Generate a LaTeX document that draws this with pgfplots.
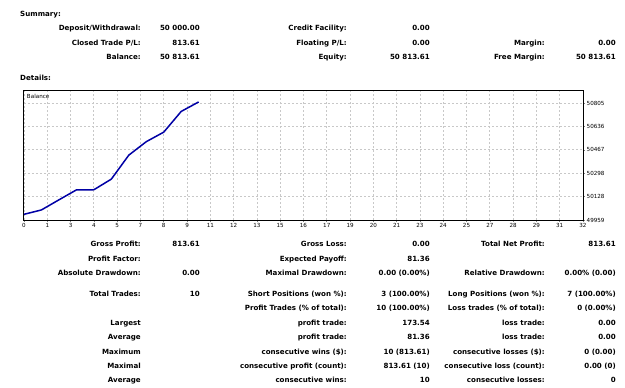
\documentclass[border=0pt]{standalone}
\usepackage{pgfplots}
\pgfplotsset{compat=1.18}
\usepackage{fontspec}
\setmainfont{DejaVu Sans}
\definecolor{bal}{RGB}{0,0,165}
\definecolor{gridc}{RGB}{200,200,200}
\newcommand\lf{\fontsize{7.1}{8}\selectfont\bfseries}
\newcommand\tf{\fontsize{5.6}{6}\selectfont}
\pgfplotstableread{
n bal
0 50000
1 50032
2 50105
3 50177
4 50178
5 50255
6 50428.5
7 50526
8 50595
9 50745
10 50813.61
}\baldata
\begin{document}
\begin{tikzpicture}
\path[use as bounding box] (0pt,0pt) rectangle (625pt,-388pt);
\begin{scope}[x=1pt,y=-1pt, every node/.style={inner sep=0pt, text height=5.2pt, text depth=0pt, font=\lf}]
\node[anchor=west] at (20,14) {Summary:};
\node[anchor=west] at (20,78) {Details:};
% top block
\node[anchor=east] at (141,28.3) {Deposit/Withdrawal:};
\node[anchor=east] at (200,28.3) {50 000.00};
\node[anchor=east] at (347,28.3) {Credit Facility:};
\node[anchor=east] at (430,28.3) {0.00};
\node[anchor=east] at (141,42.7) {Closed Trade P/L:};
\node[anchor=east] at (200,42.7) {813.61};
\node[anchor=east] at (347,42.7) {Floating P/L:};
\node[anchor=east] at (430,42.7) {0.00};
\node[anchor=east] at (545,42.7) {Margin:};
\node[anchor=east] at (616,42.7) {0.00};
\node[anchor=east] at (141,57) {Balance:};
\node[anchor=east] at (200,57) {50 813.61};
\node[anchor=east] at (347,57) {Equity:};
\node[anchor=east] at (430,57) {50 813.61};
\node[anchor=east] at (545,57) {Free Margin:};
\node[anchor=east] at (616,57) {50 813.61};
% lower block
\node[anchor=east] at (141,244) {Gross Profit:};
\node[anchor=east] at (200,244) {813.61};
\node[anchor=east] at (347,244) {Gross Loss:};
\node[anchor=east] at (430,244) {0.00};
\node[anchor=east] at (545,244) {Total Net Profit:};
\node[anchor=east] at (616,244) {813.61};
\node[anchor=east] at (141,258.7) {Profit Factor:};
\node[anchor=east] at (347,258.7) {Expected Payoff:};
\node[anchor=east] at (430,258.7) {81.36};
\node[anchor=east] at (141,273) {Absolute Drawdown:};
\node[anchor=east] at (200,273) {0.00};
\node[anchor=east] at (347,273) {Maximal Drawdown:};
\node[anchor=east] at (430,273) {0.00 (0.00\%)};
\node[anchor=east] at (545,273) {Relative Drawdown:};
\node[anchor=east] at (616,273) {0.00\% (0.00)};
\node[anchor=east] at (141,293.7) {Total Trades:};
\node[anchor=east] at (200,293.7) {10};
\node[anchor=east] at (347,293.7) {Short Positions (won \%):};
\node[anchor=east] at (430,293.7) {3 (100.00\%)};
\node[anchor=east] at (545,293.7) {Long Positions (won \%):};
\node[anchor=east] at (616,293.7) {7 (100.00\%)};
\node[anchor=east] at (347,308) {Profit Trades (\% of total):};
\node[anchor=east] at (430,308) {10 (100.00\%)};
\node[anchor=east] at (545,308) {Loss trades (\% of total):};
\node[anchor=east] at (616,308) {0 (0.00\%)};
\node[anchor=east] at (141,322.7) {Largest};
\node[anchor=east] at (347,322.7) {profit trade:};
\node[anchor=east] at (430,322.7) {173.54};
\node[anchor=east] at (545,322.7) {loss trade:};
\node[anchor=east] at (616,322.7) {0.00};
\node[anchor=east] at (141,337) {Average};
\node[anchor=east] at (347,337) {profit trade:};
\node[anchor=east] at (430,337) {81.36};
\node[anchor=east] at (545,337) {loss trade:};
\node[anchor=east] at (616,337) {0.00};
\node[anchor=east] at (141,351.7) {Maximum};
\node[anchor=east] at (347,351.7) {consecutive wins (\$):};
\node[anchor=east] at (430,351.7) {10 (813.61)};
\node[anchor=east] at (545,351.7) {consecutive losses (\$):};
\node[anchor=east] at (616,351.7) {0 (0.00)};
\node[anchor=east] at (141,366) {Maximal};
\node[anchor=east] at (347,366) {consecutive profit (count):};
\node[anchor=east] at (430,366) {813.61 (10)};
\node[anchor=east] at (545,366) {consecutive loss (count):};
\node[anchor=east] at (616,366) {0.00 (0)};
\node[anchor=east] at (141,380.3) {Average};
\node[anchor=east] at (347,380.3) {consecutive wins:};
\node[anchor=east] at (430,380.3) {10};
\node[anchor=east] at (545,380.3) {consecutive losses:};
\node[anchor=east] at (616,380.3) {0};
\end{scope}
\begin{axis}[at={(24pt,-220pt)}, anchor=south west, scale only axis,
  width=559pt, height=130pt,
  xmin=0, xmax=32, ymin=49959, ymax=50900,
  scaled ticks=false,
  axis line style={black, line width=1pt},
  grid=major, major grid style={gridc, dash pattern=on 2pt off 2pt, line width=0.8pt},
  xtick={0,1.33333,2.66667,4,5.33333,6.66667,8,9.33333,10.66667,12,13.33333,14.66667,16,17.33333,18.66667,20,21.33333,22.66667,24,25.33333,26.66667,28,29.33333,30.66667,32},
  xticklabels={0,1,3,4,5,7,8,9,11,12,13,15,16,17,19,20,21,23,24,25,27,28,29,31,32},
  ytick={49959,50128.2,50297.4,50466.6,50635.8,50805},
  yticklabels={49959,50128,50298,50467,50636,50805},
  xtick pos=bottom, ytick pos=right, yticklabel pos=right,
  tick align=outside, major tick length=2pt, tick style={gray, line width=0.6pt},
  ticklabel style={font=\tf, inner sep=1.5pt},
  /pgf/number format/assume math mode=true,
  clip=false]
\addplot[bal, line width=1.5pt, mark=none] table[x=n, y=bal] {\baldata};
\node[anchor=west, font=\tf, inner sep=0pt] at (rel axis cs:0.005,0.948) {Balance};
\end{axis}
\end{tikzpicture}
\end{document}
